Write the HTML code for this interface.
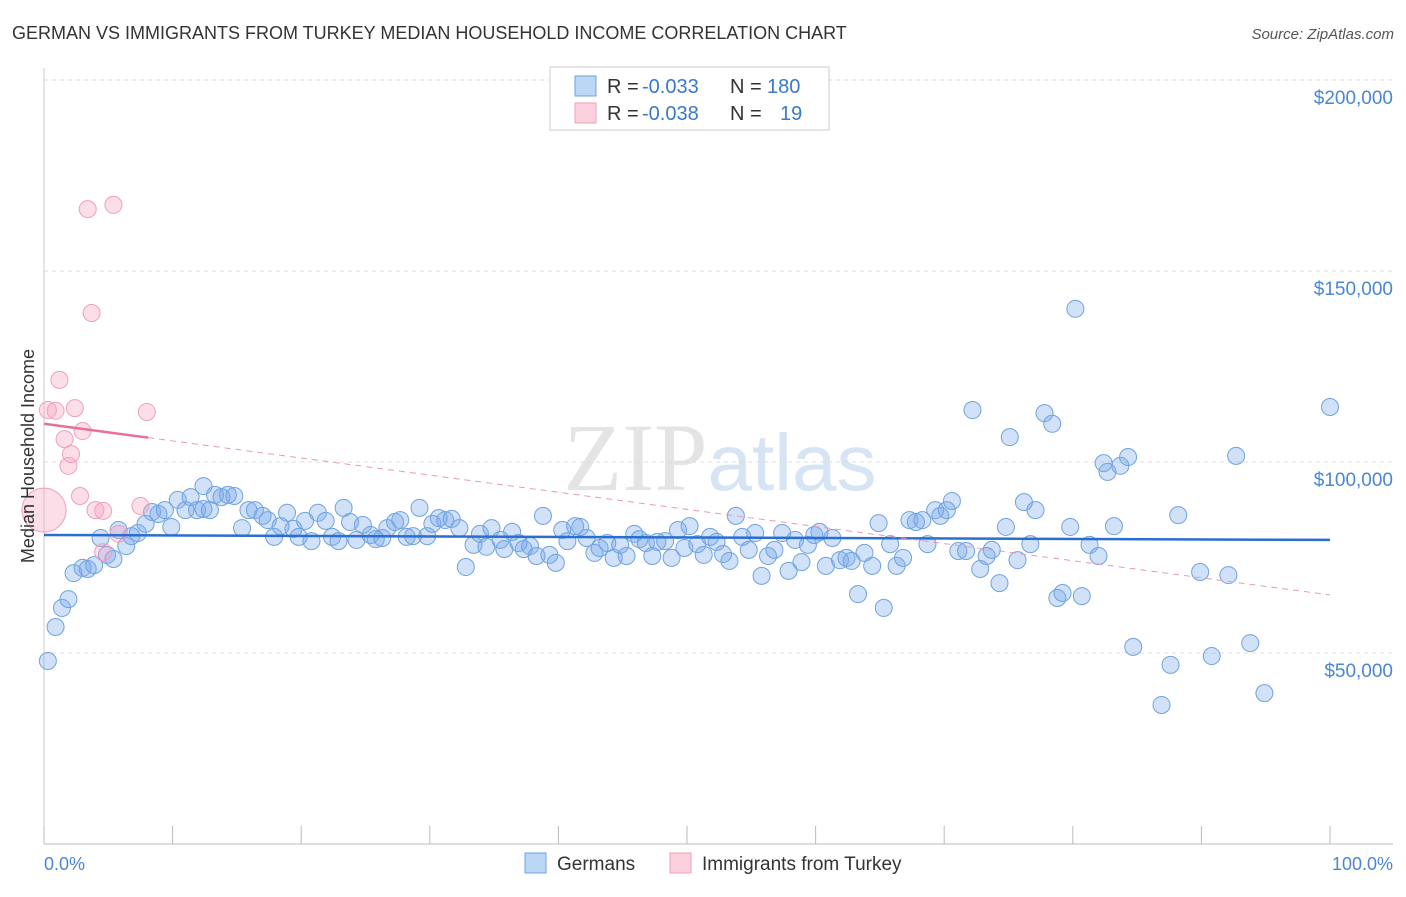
<!DOCTYPE html>
<html><head><meta charset="utf-8"><style>
body{margin:0;background:#fff;font-family:"Liberation Sans",sans-serif;}
</style></head><body>
<svg id="chart" width="1406" height="892" xmlns="http://www.w3.org/2000/svg">
<text x="12" y="39" font-size="18" fill="#333">GERMAN VS IMMIGRANTS FROM TURKEY MEDIAN HOUSEHOLD INCOME CORRELATION CHART</text>
<text x="1394" y="39" font-size="15" fill="#555" font-style="italic" text-anchor="end">Source: ZipAtlas.com</text>
<text x="720" y="490" font-size="96" fill="#e4e4e4" text-anchor="middle" font-family="Liberation Serif, serif">ZIP<tspan fill="#d6e4f4" font-family="Liberation Sans, sans-serif" font-size="80">atlas</tspan></text>
<g id="grid"></g>
<g id="axes"></g>
<g id="marks"></g>
<text transform="translate(34,456) rotate(-90)" font-size="18" fill="#333" text-anchor="middle">Median Household Income</text>
<text x="44" y="870" font-size="18" fill="#4a86d4">0.0%</text>
<text x="1393" y="870" font-size="18" fill="#4a86d4" text-anchor="end">100.0%</text>
<g>
<rect x="550" y="67" width="279" height="63" fill="#fff" stroke="#ccc"/>
<rect x="575" y="76" width="21" height="20" fill="#bcd6f5" stroke="#6fa3e0"/>
<rect x="575" y="103" width="21" height="20" fill="#fbcfdc" stroke="#f0a0bb"/>
<text x="607" y="93" font-size="20" fill="#333">R =</text>
<text x="642" y="93" font-size="20" fill="#3a78cc">-0.033</text>
<text x="730" y="93" font-size="20" fill="#333">N =</text>
<text x="767" y="93" font-size="20" fill="#3a78cc">180</text>
<text x="607" y="120" font-size="20" fill="#333">R =</text>
<text x="642" y="120" font-size="20" fill="#3a78cc">-0.038</text>
<text x="730" y="120" font-size="20" fill="#333">N =</text>
<text x="780" y="120" font-size="20" fill="#3a78cc">19</text>
</g>
<g>
<rect x="525" y="853" width="21" height="20" fill="#bcd6f5" stroke="#6fa3e0"/>
<text x="557" y="870" font-size="19" fill="#333">Germans</text>
<rect x="670" y="853" width="21" height="20" fill="#fbcfdc" stroke="#f0a0bb"/>
<text x="702" y="870" font-size="19" fill="#333">Immigrants from Turkey</text>
</g>
</svg>
<script>
const yTicks=[50000,100000,150000,200000];
const yTickLabels=["$50,000","$100,000","$150,000","$200,000"];
const germanX=[0.3,0.9,1.4,1.9,2.3,3.0,3.4,3.9,4.4,4.9,5.4,5.8,6.4,6.8,7.3,7.9,8.4,8.9,9.4,9.9,10.4,11.0,11.4,11.9,12.4,12.9,12.4,13.3,13.8,14.3,14.8,15.4,15.9,16.4,17.0,17.4,17.9,18.4,18.9,19.4,19.8,20.3,20.8,21.3,21.9,22.4,22.9,23.3,23.8,24.3,24.8,25.4,25.8,26.3,26.7,27.3,27.7,28.2,28.7,29.2,29.8,30.2,30.7,31.2,31.7,32.3,32.8,33.4,33.9,34.4,34.8,35.5,35.8,36.4,36.9,37.3,37.8,38.3,38.8,39.3,39.8,40.3,40.7,41.3,41.7,42.2,42.8,43.2,43.8,44.3,44.8,45.3,45.9,46.3,46.8,47.3,47.7,48.3,48.8,49.3,49.8,50.2,50.8,51.3,51.8,52.3,52.8,53.3,53.8,54.3,54.8,55.3,55.8,56.3,56.8,57.4,57.9,58.4,58.9,59.4,59.9,60.3,60.8,61.3,61.9,62.4,62.8,63.3,63.8,64.4,64.9,65.3,65.8,66.3,66.8,67.3,67.8,68.3,68.7,69.3,69.7,70.2,70.6,71.1,71.7,72.2,72.8,73.3,73.7,74.3,74.8,75.1,75.7,76.2,76.7,77.1,77.8,78.4,78.8,79.2,79.8,80.2,80.7,81.3,82.0,82.4,82.7,83.2,83.7,84.3,84.7,86.9,87.6,88.2,89.9,90.8,92.1,92.7,93.8,94.9,100];
const germanY=[47.9,56.8,61.8,64.1,70.9,72.3,72.0,73.0,80.1,75.7,74.6,82.2,78.0,80.6,81.4,83.8,86.9,86.4,87.4,83.0,90.1,87.4,90.8,87.4,87.7,87.4,93.7,91.4,90.8,91.4,91.1,82.7,87.4,87.4,85.9,84.8,80.4,83.2,86.7,82.5,80.4,84.6,79.3,86.7,84.6,80.4,79.3,88.0,84.3,79.6,83.5,80.9,79.8,80.1,82.7,84.3,84.8,80.4,80.6,88.0,80.6,83.8,85.3,84.8,85.1,82.7,72.5,78.3,81.2,77.8,82.7,79.6,77.2,81.7,78.8,77.2,78.0,75.4,85.9,75.7,73.6,82.2,79.3,83.2,83.0,80.1,76.2,77.5,78.8,74.9,78.3,75.4,81.2,79.8,78.8,75.4,79.1,79.3,74.9,82.2,77.5,83.2,78.5,75.7,80.4,79.1,75.9,74.1,85.9,80.4,77.0,81.4,70.2,75.4,77.0,81.4,71.5,79.6,73.8,78.3,80.9,81.7,72.8,80.1,74.3,74.9,74.1,65.4,76.2,72.8,84.0,61.8,78.5,72.8,74.9,84.8,84.3,84.8,78.5,87.4,85.9,87.4,89.8,76.7,76.7,113.6,72.0,75.4,77.0,68.3,83.0,106.5,74.3,89.5,78.5,87.4,112.8,110.0,64.4,65.7,83.0,140.1,64.9,78.3,75.4,99.7,97.4,83.2,99.0,101.3,51.6,36.4,46.9,86.1,71.2,49.2,70.4,101.6,52.6,39.5,114.4];
const turkeyX=[0.3,0.9,1.2,1.6,2.4,1.9,2.1,3.0,2.8,3.4,5.4,3.7,4.0,4.6,4.6,5.8,7.5,8.0];
const turkeyY=[113.6,113.4,121.5,106.0,114.1,99.0,102.1,108.1,91.1,166.2,167.3,139.0,87.4,87.2,76.4,81.2,88.5,113.1];
const turkeyBigX=[0];
const turkeyBigY=[87.4];
const germanTrend=[80.9,79.6];
const turkeyTrend=[110.0,65.2];

const NS="http://www.w3.org/2000/svg";
const X0=44,X1=1330,Y0=844,PXK=191/50;
function xs(p){return X0+(X1-X0)*p/100;}
function ys(k){return Y0-k*PXK;}
function mk(t,a,parent){const e=document.createElementNS(NS,t);for(const k in a)e.setAttribute(k,a[k]);parent.appendChild(e);return e;}
const grid=document.getElementById('grid'),axes=document.getElementById('axes'),marks=document.getElementById('marks');
yTicks.forEach((v,i)=>{
  const y=ys(v/1000);
  const l=mk('line',{x1:44,x2:1393,y1:y,y2:y,stroke:'#ddd','stroke-dasharray':'4,4'},grid);
  
  
  const t=mk('text',{x:1393,y:y+24,'font-size':19,fill:'#4a86d4','text-anchor':'end'},axes);
  t.textContent=yTickLabels[i];
  
  
});
const xa=mk('line',{x1:44,x2:1393,y1:844,y2:844,stroke:'#bbb'},axes);


const ya=mk('line',{x1:44,x2:44,y1:68,y2:844,stroke:'#ccc'},axes);


for(let i=0;i<=10;i++){
  const x=xs(i*10);
  const t=mk('line',{x1:x,x2:x,y1:826,y2:844,stroke:'#bbb'},axes);
  
  
}
germanX.forEach((p,i)=>{
  const c=mk('circle',{cx:xs(p),cy:ys(germanY[i]),r:8.5,fill:'rgba(120,170,235,0.35)',stroke:'#6fa3e0','stroke-width':1},marks);
  
  
});
turkeyX.forEach((p,i)=>{
  const c=mk('circle',{cx:xs(p),cy:ys(turkeyY[i]),r:8.5,fill:'rgba(245,160,190,0.35)',stroke:'#f0a0bb','stroke-width':1},marks);
  
  
});
turkeyBigX.forEach((p,i)=>{
  const c=mk('circle',{cx:xs(p),cy:ys(turkeyBigY[i]),r:22,fill:'rgba(245,160,190,0.35)',stroke:'#f0a0bb','stroke-width':1},marks);
  
  
});
const gt=mk('line',{x1:xs(0),x2:xs(100),y1:ys(germanTrend[0]),y2:ys(germanTrend[1]),stroke:'#2a6fd0','stroke-width':2.5},marks);


const tyAt=p=>turkeyTrend[0]+(turkeyTrend[1]-turkeyTrend[0])*p/100;
const td=mk('line',{x1:xs(8.1),x2:xs(100),y1:ys(tyAt(8.1)),y2:ys(tyAt(100)),stroke:'#e89ab5','stroke-width':1,'stroke-dasharray':'6,5'},marks);


const ts=mk('line',{x1:xs(0),x2:xs(8.1),y1:ys(tyAt(0)),y2:ys(tyAt(8.1)),stroke:'#e8709a','stroke-width':2.5},marks);


</script>
</body></html>
